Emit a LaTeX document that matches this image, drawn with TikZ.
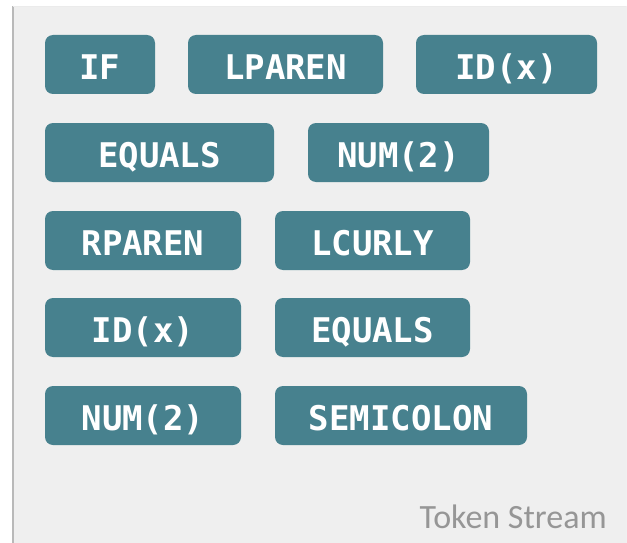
\documentclass[tikz,border=0pt]{standalone}
\usepackage{fontspec}
\newfontfamily\tokfont{DejaVu Sans Mono Bold}
\newfontfamily\capfont{Carlito}
\definecolor{tokcol}{RGB}{71,129,142}
\definecolor{panelcol}{RGB}{239,239,239}
\definecolor{shadowcol}{RGB}{185,185,185}
\definecolor{captioncol}{RGB}{150,150,150}
\begin{document}
\begin{tikzpicture}[x=1pt,y=-1pt,
  tok/.style={rounded corners=8pt, fill=tokcol, text=white, inner sep=0pt,
    font=\tokfont\fontsize{34}{34}\selectfont,
    minimum height=59pt, text height=29.8pt, text depth=0pt}]
\useasboundingbox[fill=white] (0,0) rectangle (627,543);
% panel
\fill[panelcol] (13,6) rectangle (626,543);
\draw[shadowcol, line width=2pt] (13,6) -- (13,543);
\draw[black!8, line width=0.8pt] (13,6) -- (626,6);
\draw[black!6, line width=0.8pt] (626,6) -- (626,543);
% tokens
\node[tok, minimum width=110pt] (t1) at (100,64.5) {IF};
\node[tok, minimum width=195pt] (t2) at (285.5,64.5) {LPAREN};
\node[tok, minimum width=181pt] (t3) at (506.5,64.5) {ID(x)};
\node[tok, minimum width=229pt] (t4) at (159.5,152.5) {EQUALS};
\node[tok, minimum width=181pt] (t5) at (398.5,152.5) {NUM(2)};
\node[tok, minimum width=196pt] (t6) at (143,240.5) {RPAREN};
\node[tok, minimum width=195pt] (t7) at (372.5,240.5) {LCURLY};
\node[tok, minimum width=196pt] (t8) at (143,327.5) {ID(x)};
\node[tok, minimum width=195pt] (t9) at (372.5,327.5) {EQUALS};
\node[tok, minimum width=196pt] (t10) at (143,415.5) {NUM(2)};
\node[tok, minimum width=252pt] (t11) at (401,415.5) {SEMICOLON};
% caption
\node[anchor=base east, inner sep=0pt, text=captioncol,
  font=\capfont\fontsize{34}{34}\selectfont] (cap) at (607,528) {Token Stream};
\end{tikzpicture}
\end{document}
